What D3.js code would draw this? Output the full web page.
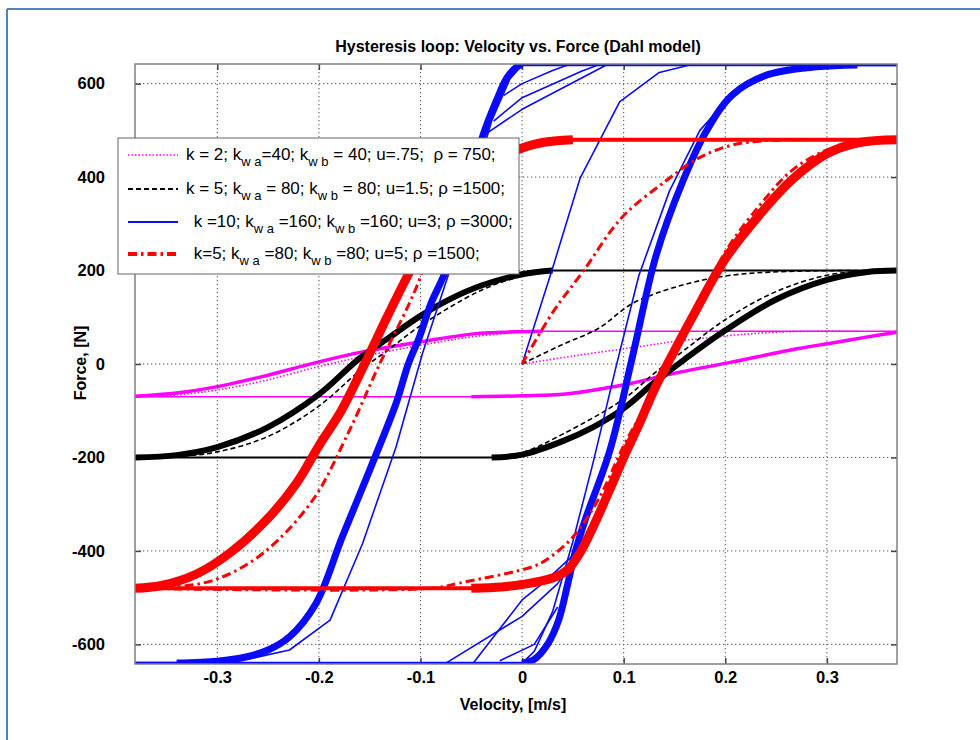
<!DOCTYPE html>
<html><head><meta charset="utf-8">
<script src="https://cdn.jsdelivr.net/npm/d3@7"></script>
<style>
html,body{margin:0;padding:0;background:#fff;}
text{font-family:"Liberation Sans",Arial,sans-serif;}
</style></head>
<body>
<svg id="chart" width="980" height="740"></svg>
<script>
// ---------------- data (velocity [m/s], force [N]) ----------------
const xTicks = [-0.3,-0.2,-0.1,0,0.1,0.2,0.3];
const xTickLabels = ["-0.3","-0.2","-0.1","0","0.1","0.2","0.3"];
const yTicks = [-600,-400,-200,0,200,400,600];
const yTickLabels = ["-600","-400","-200","0","200","400","600"];
const xDomain = [-0.381, 0.369];
const yDomain = [-642, 642];

const seriesNames = ["magenta","black","blue","red"];
const fMax = [70, 200, 640, 480];

// k=2 (magenta)
const magUpper = [[0.369,70],[0.02,70],[-0.02,68],[-0.045,65],[-0.09,51],[-0.157,26],[-0.203,3],[-0.256,-27],[-0.301,-49],[-0.34,-62],[-0.381,-69]];
const magLower = [[-0.381,-70],[-0.05,-70],[0.0,-68],[0.043,-64],[0.108,-41],[0.141,-24],[0.206,4],[0.272,33],[0.305,45],[0.34,58],[0.369,68]];
const magInit = [[0,0],[0.05,17],[0.108,35],[0.15,48],[0.2,60],[0.24,67],[0.28,70],[0.33,70]];
const magFirstDown = [[0.0,68],[-0.05,58],[-0.1,40],[-0.157,16],[-0.203,-7],[-0.256,-37],[-0.301,-56],[-0.34,-66],[-0.381,-70]];

// k=5 (black)
const blkUpper = [[0.369,200],[0.03,200],[0.0,192],[-0.04,168],[-0.07,140],[-0.1,103],[-0.13,58],[-0.16,12],[-0.2,-65],[-0.25,-135],[-0.3,-178],[-0.34,-195],[-0.381,-200]];
const blkLower = [[-0.381,-200],[-0.03,-200],[0.0,-194],[0.04,-165],[0.07,-135],[0.1,-95],[0.13,-40],[0.16,10],[0.2,72],[0.25,138],[0.3,180],[0.34,197],[0.369,200]];
const blkInit = [[0,0],[0.04,42],[0.075,76],[0.109,130],[0.158,169],[0.206,190],[0.26,198],[0.33,200]];
const blkFirstDown = [[0.03,200],[0.0,188],[-0.04,158],[-0.1,82],[-0.13,33],[-0.16,-15],[-0.2,-90],[-0.25,-155],[-0.3,-188],[-0.34,-198],[-0.381,-200]];
const blkFirstUp = [[-0.03,-200],[0.0,-190],[0.04,-150],[0.1,-75],[0.13,-20],[0.16,30],[0.2,95],[0.25,155],[0.3,190],[0.34,199],[0.369,200]];

// k=10 (blue)
const bluUpper = [[0.369,640],[0.0,640],[-0.005,636],[-0.015,612],[-0.025,565],[-0.039,486],[-0.05,400],[-0.062,305],[-0.075,201],[-0.09,128],[-0.101,58],[-0.112,0],[-0.124,-84],[-0.15,-227],[-0.177,-370],[-0.203,-513],[-0.229,-584],[-0.25,-612],[-0.272,-627],[-0.3,-636],[-0.34,-640],[-0.381,-640]];
const bluLower = [[-0.381,-640],[0.0,-640],[0.012,-632],[0.025,-600],[0.036,-548],[0.045,-470],[0.052,-405],[0.062,-334],[0.086,-188],[0.109,19],[0.132,233],[0.158,390],[0.181,497],[0.207,576],[0.24,618],[0.29,636],[0.33,640],[0.369,640]];
const bluInit = [[0,0],[0.03,205],[0.057,397],[0.096,561],[0.135,624],[0.165,640],[0.2,640]];
const bluFirstDown = [[0.0,640],[-0.012,610],[-0.03,520],[-0.05,370],[-0.071,201],[-0.098,23],[-0.124,-177],[-0.157,-384],[-0.189,-548],[-0.229,-612],[-0.27,-632],[-0.32,-640]];
const bluFirstUp = [[0.0,-640],[0.012,-615],[0.03,-530],[0.05,-380],[0.07,-210],[0.092,-10],[0.115,190],[0.145,370],[0.175,500],[0.21,585],[0.26,630],[0.31,640]];
const bluFanTop1 = [[-0.04,486],[0.0,545],[0.083,640]];
const bluFanTop2 = [[-0.028,520],[0.0,570],[0.059,627],[0.075,640]];
const bluFanTop3 = [[-0.018,575],[0.0,600],[0.03,628],[0.045,640]];
const bluFanBot1 = [[-0.075,-640],[0.0,-540],[0.035,-470],[0.05,-420]];
const bluFanBot2 = [[-0.048,-640],[0.0,-505],[0.02,-470],[0.05,-410]];
const bluFanBot3 = [[-0.022,-635],[0.012,-600],[0.035,-520]];

// k=5, u=5 (red)
const redUpper = [[0.369,480],[0.05,480],[0.02,474],[0.0,462],[-0.03,435],[-0.06,385],[-0.085,300],[-0.11,200],[-0.133,100],[-0.155,0],[-0.178,-100],[-0.2,-175],[-0.222,-255],[-0.25,-330],[-0.288,-405],[-0.321,-450],[-0.355,-474],[-0.381,-480]];
const redLower = [[-0.381,-480],[-0.05,-480],[-0.02,-477],[0.0,-472],[0.03,-458],[0.045,-440],[0.057,-404],[0.073,-334],[0.09,-250],[0.101,-195],[0.115,-130],[0.13,-55],[0.143,0],[0.17,110],[0.2,225],[0.234,320],[0.266,395],[0.3,450],[0.332,474],[0.369,480]];
const redInit = [[0,0],[0.03,110],[0.06,198],[0.098,313],[0.141,391],[0.174,441],[0.206,468],[0.239,478],[0.28,480]];
const redFirstDown = [[0.05,480],[0.0,468],[-0.04,428],[-0.075,320],[-0.108,144],[-0.14,1],[-0.173,-156],[-0.206,-291],[-0.255,-405],[-0.3,-460],[-0.34,-477],[-0.381,-480]];
const redFirstUp = [[-0.381,-480],[-0.09,-480],[-0.062,-469],[0.01,-434],[0.024,-419],[0.05,-370],[0.075,-290],[0.1,-175],[0.12,-95],[0.14,-10],[0.17,110],[0.2,240],[0.234,340],[0.266,415],[0.3,458],[0.332,476],[0.369,480]];

const legendLabels = [
  ["k = 2; k","w a","=40; k","w b"," = 40; u=.75;  \u03c1 = 750;"],
  ["k = 5; k","w a"," = 80; k","w b"," = 80; u=1.5; \u03c1 =1500;"],
  [" k =10; k","w a"," =160; k","w b"," =160; u=3; \u03c1 =3000;"],
  [" k=5; k","w a"," =80; k","w b"," =80; u=5; \u03c1 =1500;"]
];

// ---------------- drawing ----------------
const svg = d3.select("#chart");
const L = 135, R = 897, T = 64, B = 664;
const x = d3.scaleLinear().domain(xDomain).range([L, R]);
const y = d3.scaleLinear().domain(yDomain).range([B, T]);

// outer frame (top + left)
svg.append("line").attr("x1",7).attr("y1",9).attr("x2",980).attr("y2",9).attr("stroke","#4f81bd").attr("stroke-width",2);
svg.append("line").attr("x1",7).attr("y1",9).attr("x2",7).attr("y2",740).attr("stroke","#4f81bd").attr("stroke-width",2);

svg.append("defs").append("clipPath").attr("id","clip").append("rect")
  .attr("x",L).attr("y",T).attr("width",R-L).attr("height",B-T);

// grid
const grid = svg.append("g");
xTicks.forEach(t => grid.append("line").attr("x1",x(t)).attr("x2",x(t)).attr("y1",T).attr("y2",B)
  .attr("stroke","#555").attr("stroke-width",1).attr("stroke-dasharray","1.3,2.7"));
yTicks.forEach(t => grid.append("line").attr("y1",y(t)).attr("y2",y(t)).attr("x1",L).attr("x2",R)
  .attr("stroke","#555").attr("stroke-width",1).attr("stroke-dasharray","1.3,2.7"));

// axes via d3 axis (ticks inward)
const axB = d3.axisBottom(x).tickValues(xTicks).tickFormat((d,i)=>xTickLabels[i]).tickSizeInner(-6).tickSizeOuter(0).tickPadding(7);
const axL = d3.axisLeft(y).tickValues(yTicks).tickFormat((d,i)=>yTickLabels[i]).tickSizeInner(-6).tickSizeOuter(0).tickPadding(30);
const axT = d3.axisTop(x).tickValues(xTicks).tickFormat("").tickSizeInner(-6).tickSizeOuter(0);
const axR = d3.axisRight(y).tickValues(yTicks).tickFormat("").tickSizeInner(-6).tickSizeOuter(0);
function styleAxis(g){
  g.select(".domain").remove();
  g.selectAll(".tick line").attr("stroke","#444").attr("stroke-width",1.5);
  g.selectAll("text").attr("font-size",16.5).attr("font-weight","bold").attr("fill","#000")
    .attr("font-family","'Liberation Sans',Arial,sans-serif");
}
svg.append("g").attr("transform",`translate(0,${B})`).call(axB).call(styleAxis);
svg.append("g").attr("transform",`translate(${L},0)`).call(axL).call(styleAxis);
svg.append("g").attr("transform",`translate(0,${T})`).call(axT).call(styleAxis);
svg.append("g").attr("transform",`translate(${R},0)`).call(axR).call(styleAxis);

const plot = svg.append("g").attr("clip-path","url(#clip)");
const smooth = d3.line().x(d=>x(d[0])).y(d=>y(d[1])).curve(d3.curveCatmullRom.alpha(0.5));
const straight = d3.line().x(d=>x(d[0])).y(d=>y(d[1]));

function slopePart(arr, fm){
  const idx = arr.map((d,i)=>Math.abs(d[1]) < fm-0.5 ? i : -1).filter(i=>i>=0);
  const a = Math.max(0, idx[0]-1), b = Math.min(arr.length-1, idx[idx.length-1]+1);
  return arr.slice(a, b+1);
}
function drawPath(arr, color, w, dash, gen){
  const p = plot.append("path").datum(arr).attr("d", gen||smooth).attr("fill","none")
    .attr("stroke",color).attr("stroke-width",w).attr("stroke-linejoin","round");
  if (dash) p.attr("stroke-dasharray",dash);
  return p;
}
function drawBranch(arr, fm, color, flatW, bandW){
  drawPath(arr, color, flatW, null, straight);
  drawPath(slopePart(arr, fm), color, bandW, null);
}

// magenta
drawBranch(magUpper, fMax[0], "#ff00ff", 1.5, 3.5);
drawBranch(magLower, fMax[0], "#ff00ff", 1.5, 3.5);
drawPath(magInit, "#ff00ff", 1.6, "1.5,2");
drawPath(magFirstDown, "#ff00ff", 1.6, "1.5,2");

// black
drawBranch(blkUpper, fMax[1], "#000", 2, 6);
drawBranch(blkLower, fMax[1], "#000", 2, 6);
drawPath(blkInit, "#000", 1.6, "5,3");
drawPath(blkFirstDown, "#000", 1.6, "5,3");
drawPath(blkFirstUp, "#000", 1.6, "5,3");

// blue
drawBranch(bluUpper, fMax[2], "#0a0aff", 2.5, 7);
drawBranch(bluLower, fMax[2], "#0a0aff", 2.5, 7);
[bluInit, bluFirstDown, bluFirstUp, bluFanTop1, bluFanTop2, bluFanTop3, bluFanBot1, bluFanBot2, bluFanBot3]
  .forEach(a => drawPath(a, "#0a0aff", 1.6, null, straight));

// red
drawBranch(redUpper, fMax[3], "#ff0000", 4, 9);
drawBranch(redLower, fMax[3], "#ff0000", 4, 9);
drawPath(redInit, "#ff0000", 3, "9,4,2.5,4");
drawPath(redFirstDown, "#ff0000", 3, "9,4,2.5,4");
drawPath(redFirstUp, "#ff0000", 3, "9,4,2.5,4");

// axes box
svg.append("rect").attr("x",L).attr("y",T).attr("width",R-L).attr("height",B-T)
  .attr("fill","none").attr("stroke","#808080").attr("stroke-width",1.5);

// title & labels
svg.append("text").attr("x",518).attr("y",52).attr("text-anchor","middle")
  .attr("font-size",16).attr("font-weight","bold").text("Hysteresis loop: Velocity vs. Force (Dahl model)");
svg.append("text").attr("x",513).attr("y",710).attr("text-anchor","middle")
  .attr("font-size",16).attr("font-weight","bold").text("Velocity, [m/s]");
svg.append("text").attr("transform","translate(86,363) rotate(-90)").attr("text-anchor","middle")
  .attr("font-size",16).attr("font-weight","bold").text("Force, [N]");

// legend
const lg = svg.append("g");
lg.append("rect").attr("x",118).attr("y",138).attr("width",401).attr("height",136)
  .attr("fill","#fff").attr("stroke","#666").attr("stroke-width",1);
const legendRows = [155,189,222,254];
const legendStyles = [
  {c:"#ff00ff", w:1.6, d:"1.5,2"},
  {c:"#000", w:2, d:"5,3"},
  {c:"#0a0aff", w:2, d:null},
  {c:"#ff0000", w:4, d:"9,4,2.5,4"}
];
const legendTextX = [186,186,189,189];
legendRows.forEach((ry,i)=>{
  const st = legendStyles[i];
  const ln = lg.append("line").attr("x1",128).attr("x2",178).attr("y1",ry).attr("y2",ry)
    .attr("stroke",st.c).attr("stroke-width",st.w);
  if (st.d) ln.attr("stroke-dasharray",st.d);
  const t = lg.append("text").attr("x",legendTextX[i]).attr("y",ry+5).attr("font-size",17)
    .attr("fill","#000").style("white-space","pre");
  const parts = legendLabels[i];
  parts.forEach((p,j)=>{
    const sub = (j===1||j===3);
    t.append("tspan").attr("font-size", sub?13:17).attr("dy", sub?6:(j>0?-6:0)).text(p);
  });
});
</script>
</body></html>
